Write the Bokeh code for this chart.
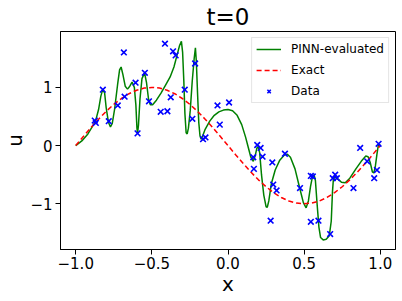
from bokeh.plotting import figure
from bokeh.models import Range1d, FixedTicker, Legend, LegendItem
from bokeh.embed import file_html
from bokeh.resources import INLINE

# ---- data ----
pinn_x = [-1.00, -0.96, -0.92, -0.89, -0.87, -0.85, -0.835, -0.822, -0.81, -0.80, -0.785, -0.772,
          -0.76, -0.745, -0.725, -0.712, -0.702, -0.69, -0.675, -0.66, -0.645, -0.63, -0.615,
          -0.605, -0.598, -0.594, -0.588, -0.578, -0.565, -0.548, -0.535, -0.522, -0.51, -0.495,
          -0.47, -0.44, -0.41, -0.38, -0.355, -0.335, -0.318, -0.306, -0.298, -0.29, -0.283,
          -0.275, -0.268, -0.26, -0.248, -0.235, -0.222, -0.214, -0.208, -0.200, -0.192, -0.184,
          -0.176, -0.166, -0.15, -0.12, -0.09, -0.06, -0.03, 0.0, 0.03, 0.06, 0.09, 0.115, 0.135,
          0.15, 0.166, 0.178, 0.19, 0.198, 0.208, 0.22, 0.235, 0.25, 0.258, 0.268, 0.285, 0.31,
          0.34, 0.37, 0.39, 0.41, 0.44, 0.47, 0.495, 0.513, 0.528, 0.542, 0.555, 0.565, 0.574,
          0.585, 0.597, 0.608, 0.625, 0.645, 0.665, 0.678, 0.686, 0.692, 0.700, 0.710, 0.725,
          0.745, 0.77, 0.80, 0.84, 0.875, 0.905, 0.92, 0.935, 0.948, 0.958, 0.968, 0.978, 0.988, 1.0]
pinn_u = [0.00, 0.08, 0.20, 0.33, 0.42, 0.62, 0.85, 0.97, 0.90, 0.65, 0.40, 0.32,
          0.38, 0.62, 1.05, 1.30, 1.35, 1.22, 1.02, 0.97, 1.02, 1.09, 1.00,
          0.70, 0.30, 0.21, 0.35, 0.80, 1.15, 1.25, 1.08, 0.80, 0.70, 0.70,
          0.78, 0.90, 1.04, 1.18, 1.35, 1.55, 1.72, 1.79, 1.60, 1.10, 0.55,
          0.22, 0.20, 0.30, 0.60, 1.10, 1.50, 1.68, 1.45, 0.90, 0.40, 0.17,
          0.11, 0.17, 0.28, 0.42, 0.52, 0.58, 0.61, 0.62, 0.60, 0.52, 0.36, 0.15, -0.05,
          -0.20, -0.27, -0.18, -0.04, -0.02, -0.12, -0.50, -0.85, -1.05, -1.06, -0.95, -0.65, -0.42,
          -0.25, -0.16, -0.15, -0.20, -0.40, -0.72, -0.98, -1.07, -0.95, -0.70, -0.53, -0.50, -0.60,
          -1.00, -1.40, -1.58, -1.62, -1.61, -1.55, -1.30, -0.80, -0.58, -0.55, -0.55, -0.58,
          -0.63, -0.64, -0.56, -0.40, -0.27, -0.18, -0.19, -0.30, -0.45, -0.47, -0.35, -0.15, 0.02, 0.01]

exact_x = [-1.0, -0.95, -0.9, -0.85, -0.8, -0.75, -0.7, -0.65, -0.6, -0.55, -0.5, -0.45, -0.4,
           -0.35, -0.3, -0.25, -0.2, -0.15, -0.1, -0.05, 0.0, 0.05, 0.1, 0.15, 0.2, 0.25, 0.3,
           0.35, 0.4, 0.45, 0.5, 0.55, 0.6, 0.65, 0.7, 0.75, 0.8, 0.85, 0.9, 0.95, 1.0]
exact_u = [0.0, 0.156, 0.309, 0.454, 0.588, 0.707, 0.809, 0.891, 0.951, 0.988, 1.0, 0.988, 0.951,
           0.891, 0.809, 0.707, 0.588, 0.454, 0.309, 0.156, 0.0, -0.156, -0.309, -0.454, -0.588,
           -0.707, -0.809, -0.891, -0.951, -0.988, -1.0, -0.988, -0.951, -0.891, -0.809, -0.707,
           -0.588, -0.454, -0.309, -0.156, 0.0]

data_x = [-0.875, -0.868, -0.822, -0.783, -0.724, -0.684, -0.679, -0.607, -0.594, -0.546, -0.519,
          -0.442, -0.398, -0.414, -0.361, -0.344, -0.376, -0.284, -0.234, -0.216, -0.164, -0.148,
          -0.069, -0.054, 0.007, 0.166, 0.170, 0.192, 0.214, 0.227, 0.291, 0.297, 0.319, 0.280,
          0.374, 0.473, 0.544, 0.557, 0.544, 0.594, 0.671, 0.704, 0.688, 0.715, 0.824, 0.868,
          0.914, 0.960, 0.978, 0.989]
data_u = [0.43, 0.39, 0.96, 0.42, 0.69, 1.60, 0.84, 1.08, 0.21, 1.25, 0.76,
          0.58, 0.59, 1.75, 1.62, 1.55, 0.83, 0.96, 0.46, 1.41, 0.11, 0.14,
          0.69, 0.36, 0.74, -0.20, -0.40, 0.01, -0.04, -0.19, -0.29, -0.67, -0.77, -1.29,
          -0.14, -0.73, -0.52, -0.53, -1.31, -1.29, -1.52, -0.50, -0.56, -0.56, -0.73, -0.04,
          -0.27, -0.56, -0.42, 0.03]

xticks = [-1.0, -0.5, 0.0, 0.5, 1.0]
xtick_labels = ["\u22121.0", "\u22120.5", "0.0", "0.5", "1.0"]
yticks = [-1, 0, 1]
ytick_labels = ["\u22121", "0", "1"]

FONT = "DejaVu Sans"

p = figure(output_backend="svg", toolbar_location=None,
           x_range=Range1d(-1.1, 1.1), y_range=Range1d(-1.785, 1.96),
           frame_width=335, frame_height=218,
           min_border_left=54, min_border_right=6, min_border_top=26, min_border_bottom=40)
p.title.text = "t=0"
p.title.align = "center"
p.title.text_font = FONT
p.title.text_font_size = "23px"
p.title.text_font_style = "normal"
p.title.text_color = "black"
p.title.standoff = 3
p.xgrid.visible = False
p.ygrid.visible = False
p.outline_line_color = "black"
p.outline_line_width = 1
p.background_fill_color = "white"
p.border_fill_color = "white"

for ax, ticks, labels, lab in ((p.xaxis[0], xticks, xtick_labels, "x"), (p.yaxis[0], yticks, ytick_labels, "u")):
    ax.ticker = FixedTicker(ticks=ticks)
    ax.major_label_overrides = {t: l for t, l in zip(ticks, labels)}
    ax.axis_label = lab
    ax.axis_label_text_font = FONT
    ax.axis_label_text_font_size = "20px"
    ax.axis_label_text_font_style = "normal"
    ax.axis_label_text_color = "black"
    ax.axis_label_standoff = 0
    ax.major_label_text_font = FONT
    ax.major_label_text_font_size = "15px"
    ax.major_label_text_color = "black"
    ax.major_label_standoff = 2
    ax.major_tick_out = 5
    ax.major_tick_in = 0
    ax.minor_tick_out = 0
    ax.minor_tick_in = 0
    ax.axis_line_color = "black"
    ax.major_tick_line_color = "black"
p.yaxis[0].major_label_orientation = "horizontal"
p.yaxis[0].major_label_standoff = 3

r_pinn = p.line(pinn_x, pinn_u, line_color="green", line_width=1.5)
r_exact = p.line(exact_x, exact_u, line_color="red", line_width=1.5, line_dash="5 3")
r_data = p.scatter(data_x, data_u, marker="x", size=8, line_color="blue", line_width=1.6)

legend = Legend(items=[LegendItem(label="PINN-evaluated", renderers=[r_pinn]),
                       LegendItem(label="Exact", renderers=[r_exact]),
                       LegendItem(label="Data", renderers=[r_data])],
                location="top_right", margin=6, padding=4, spacing=7,
                glyph_width=25, glyph_height=12, label_height=12, label_standoff=10,
                label_text_font=FONT, label_text_font_size="12px", label_text_color="black",
                border_line_color="#cccccc", border_line_width=1,
                background_fill_color="white", background_fill_alpha=0.8)
p.add_layout(legend)

open("out.html", "w").write(file_html(p, INLINE))
